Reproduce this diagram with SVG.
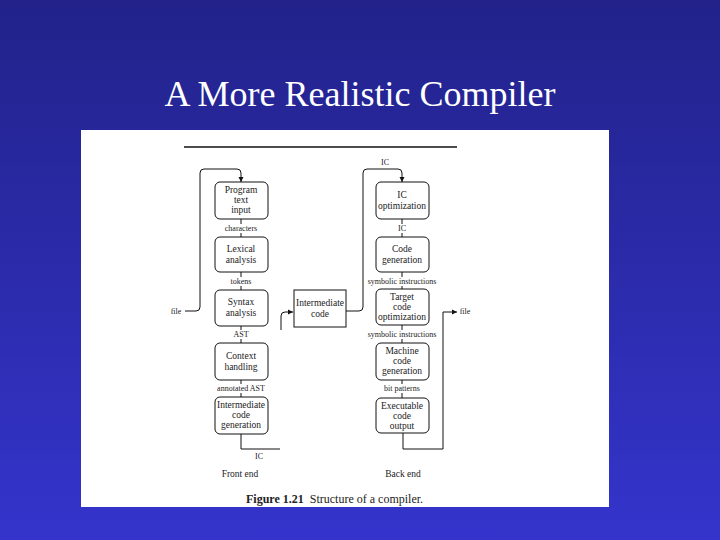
<svg xmlns="http://www.w3.org/2000/svg" width="720" height="540" viewBox="0 0 720 540">
<defs>
<linearGradient id="bg" x1="0" y1="0" x2="0" y2="1">
<stop offset="0" stop-color="#22228a"/>
<stop offset="1" stop-color="#3434cc"/>
</linearGradient>
<marker id="ah" markerWidth="6" markerHeight="6" refX="5" refY="3" orient="auto" markerUnits="userSpaceOnUse">
<path d="M0,0.5 L5,3 L0,5.5 Z" fill="#111"/>
</marker>
<style>
.box{fill:#fff;stroke:#111;stroke-width:1}
.t{font-family:"Liberation Serif","Times New Roman",serif;font-size:9.5px;fill:#222;text-anchor:middle}
.l{font-family:"Liberation Serif","Times New Roman",serif;font-size:8px;fill:#222;text-anchor:middle}
.c{fill:none;stroke:#111;stroke-width:1}
</style>
</defs>
<rect width="720" height="540" fill="url(#bg)"/>
<text x="360" y="106" font-family="Liberation Serif,'Times New Roman',serif" font-size="36" fill="#fff" text-anchor="middle">A More Realistic Compiler</text>
<rect x="81" y="130" width="528" height="377" fill="#fff"/>
<line x1="184" y1="147" x2="457" y2="147" stroke="#111" stroke-width="1.3"/>

<g id="connectors">
<path class="c" d="M185,311 L196,311 Q200,311 200,307 L200,173 Q200,169 204,169 L237,169 Q241,169 241,173 L241,182" marker-end="url(#ah)"/>
<path class="c" d="M241,219 V224 M241,233 V237"/>
<path class="c" d="M241,272 V277 M241,286 V290"/>
<path class="c" d="M241,326 V330 M241,339 V343"/>
<path class="c" d="M241,380 V384 M241,393 V397"/>
<path class="c" d="M241,434 V449 H280"/>
<path class="c" d="M281,330 V316 Q281,312 285,312 L293,312" marker-end="url(#ah)"/>
<path class="c" d="M346,311 L359,311 Q363,311 363,307 L363,173 Q363,169 367,169 L398,169 Q402,169 402,173 L402,182" marker-end="url(#ah)"/>
<path class="c" d="M402,219 V224 M402,233 V237"/>
<path class="c" d="M402,272 V277 M402,286 V289"/>
<path class="c" d="M402,325 V330 M402,339 V343"/>
<path class="c" d="M402,380 V384 M402,393 V398"/>
<path class="c" d="M403,433 V449 H443 V312 H457" marker-end="url(#ah)"/>
</g>

<g id="program-text-input"><rect class="box" x="215" y="182" width="53" height="37" rx="5"/>
<text class="t" x="241" y="193">Program</text><text class="t" x="241" y="203">text</text><text class="t" x="241" y="213">input</text></g>
<text class="l" x="241" y="231">characters</text>
<g id="lexical-analysis"><rect class="box" x="215" y="237" width="53" height="35" rx="5"/>
<text class="t" x="241" y="252">Lexical</text><text class="t" x="241" y="263">analysis</text></g>
<text class="l" x="241" y="284">tokens</text>
<g id="syntax-analysis"><rect class="box" x="215" y="290" width="53" height="36" rx="5"/>
<text class="t" x="241" y="305">Syntax</text><text class="t" x="241" y="316">analysis</text></g>
<text class="l" x="241" y="337">AST</text>
<g id="context-handling"><rect class="box" x="215" y="343" width="53" height="37" rx="5"/>
<text class="t" x="241" y="359">Context</text><text class="t" x="241" y="370">handling</text></g>
<text class="l" x="241" y="391">annotated AST</text>
<g id="intermediate-code-generation"><rect class="box" x="215" y="397" width="53" height="37" rx="5"/>
<text class="t" x="241" y="408">Intermediate</text><text class="t" x="241" y="418">code</text><text class="t" x="241" y="428">generation</text></g>
<text class="l" x="259" y="459">IC</text>
<text class="l" x="176" y="314">file</text>

<g id="intermediate-code"><rect class="box" x="294" y="290" width="52" height="37"/>
<text class="t" x="320" y="306">Intermediate</text><text class="t" x="320" y="317">code</text></g>

<text class="l" x="385" y="165">IC</text>
<g id="ic-optimization"><rect class="box" x="376" y="182" width="53" height="37" rx="5"/>
<text class="t" x="402" y="198">IC</text><text class="t" x="402" y="209">optimization</text></g>
<text class="l" x="402" y="231">IC</text>
<g id="code-generation"><rect class="box" x="376" y="237" width="53" height="35" rx="5"/>
<text class="t" x="402" y="252">Code</text><text class="t" x="402" y="263">generation</text></g>
<text class="l" x="402" y="284">symbolic instructions</text>
<g id="target-code-optimization"><rect class="box" x="376" y="289" width="53" height="36" rx="5"/>
<text class="t" x="402" y="300">Target</text><text class="t" x="402" y="310">code</text><text class="t" x="402" y="320">optimization</text></g>
<text class="l" x="402" y="337">symbolic instructions</text>
<g id="machine-code-generation"><rect class="box" x="376" y="343" width="53" height="37" rx="5"/>
<text class="t" x="402" y="354">Machine</text><text class="t" x="402" y="364">code</text><text class="t" x="402" y="374">generation</text></g>
<text class="l" x="402" y="391">bit patterns</text>
<g id="executable-code-output"><rect class="box" x="376" y="398" width="53" height="35" rx="5"/>
<text class="t" x="402" y="409">Executable</text><text class="t" x="402" y="419">code</text><text class="t" x="402" y="429">output</text></g>
<text class="l" x="465" y="314">file</text>

<text class="t" x="240" y="477">Front end</text>
<text class="t" x="403" y="477">Back end</text>
<text x="246" y="503" font-family="Liberation Serif,'Times New Roman',serif" font-size="12" fill="#222"><tspan font-weight="bold">Figure 1.21</tspan><tspan dx="6">Structure of a compiler.</tspan></text>
</svg>
